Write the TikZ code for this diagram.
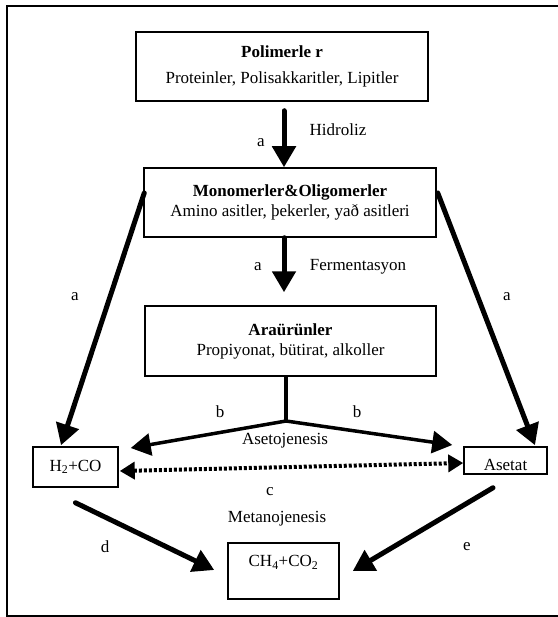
\documentclass[tikz,border=0pt]{standalone}
\usepackage{fontspec}
\setmainfont{Liberation Serif}
\usetikzlibrary{arrows.meta}

\begin{document}
\begin{tikzpicture}[x=1pt,y=-1pt,
    every node/.style={font=\fontsize{17}{20}\selectfont},
    box/.style={draw,line width=1.5pt,inner sep=0pt,align=center},
    fat/.style={line width=5pt,line cap=round,-{Triangle[length=21pt,width=23pt]}},
    thin/.style={line width=3.5pt,-{Triangle[length=20pt,width=22pt]}},
    dots/.style={line width=4pt,dash pattern=on 3pt off 2pt,
        {Triangle[length=15pt,width=17pt]}-{Triangle[length=15pt,width=17pt]}}]
    \useasboundingbox (0,0) rectangle (557,617);
    \draw[line width=1.5pt] (7,6) rectangle (560,616);

    \node[box,minimum width=292,minimum height=69] (poly) at (282,66.5)
        {\textbf{Polimerle r}\\[6pt]Proteinler, Polisakkaritler, Lipitler};
    \node[box,minimum width=292,minimum height=69] (mono) at (290,202.5)
        {\textbf{Monomerler\&Oligomerler}\\Amino asitler, þekerler, yað asitleri};
    \node[box,minimum width=291,minimum height=70] (ara) at (290.5,341)
        {\textbf{Araürünler}\\Propiyonat, bütirat, alkoller};
    \node[box,minimum width=85,minimum height=40] (h2co) at (75.5,467) {H\textsubscript{2}+CO};
    \node[box,minimum width=83,minimum height=27,text height=20pt] (aset) at (505.5,460.5) {Asetat};
    \node[box,minimum width=111,minimum height=56,text depth=20pt] (ch4) at (283.5,571)
        {CH\textsubscript{4}+CO\textsubscript{2}};

    \draw[fat] ([shift={(2,9)}]poly.south) -- ([shift={(-6,0)}]mono.north);
    \node (a1) at (261,143) {a};
    \node (hidro) at (338,130) {Hidroliz};

    \draw[fat] ([shift={(-6,0)}]mono.south) -- ([shift={(-6.5,-13)}]ara.north);
    \node (a2) at (258,267) {a};
    \node (ferm) at (358,267) {Fermentasyon};

    \draw[fat] ([shift={(1,-9.5)}]mono.west) -- ([shift={(-14.5,-1)}]h2co.north);
    \draw[fat] ([shift={(1,-9.5)}]mono.east) -- ([shift={(29.5,-1)}]aset.north);
    \node (a3) at (75,297) {a};
    \node (a4) at (507,297) {a};

    \coordinate (split) at (286,421);
    \draw[line width=3.5pt] ([shift={(-4.5,0)}]ara.south) -- (split);
    \draw[thin] (split) -- ([shift={(12,-19)}]h2co.east);
    \draw[thin] (split) -- ([shift={(-11,-15.5)}]aset.west);
    \node (b1) at (220,412) {b};
    \node (b2) at (357,412) {b};

    \draw[dots] ([shift={(1,4)}]h2co.east) -- ([shift={(0,2.5)}]aset.west);
    \node (aceto) at (285,441) {Asetojenesis};
    \node (c) at (270,492) {c};
    \node (metano) at (277,519) {Metanojenesis};

    \draw[fat] ([shift={(0,15)}]h2co.south) -- ([shift={(-13,-1)}]ch4.west);
    \draw[fat] ([shift={(-12.5,13)}]aset.south) -- ([shift={(13,0)}]ch4.east);
    \node (d) at (105,547) {d};
    \node (e) at (467,547) {e};
\end{tikzpicture}
\end{document}
